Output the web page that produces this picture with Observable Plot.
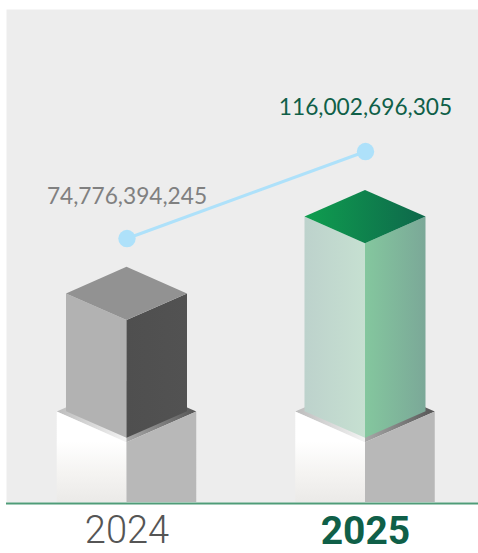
<!DOCTYPE html>
<html>
<head>
<meta charset="utf-8">
<script src="https://cdn.jsdelivr.net/npm/d3@7"></script>
<script src="https://cdn.jsdelivr.net/npm/@observablehq/plot@0.6"></script>
<style>
  html, body { margin: 0; padding: 0; background: #fff; }
  svg { display: block; }
</style>
</head>
<body>
<script>
// Yearly totals
const years = [2024, 2025];
const totals = [74776394245, 116002696305];
const billions = totals.map((v) => v / 1e9);

// Block proportions, in the units of the x (years) and y (billions) scales
const boxHalf = 0.2537, slabHalf = 0.2925;
const boxRise = 12.6, slabRise = 14.6;
const boxFoot = -19.9, slabEdge = -7.4, groundLevel = -50.3;
const boxTop = (v) => 0.883 * v - 30.1;

// Face colours per block
const gradients = {
  topA: [["#929292", "#929292"], "h"],
  leftA: [["#b2b2b2", "#b2b2b2"], "h"],
  rightA: [["#4f4f4f", "#525252"], "h"],
  topB: [["#0f9e4f", "#0e674b"], "h"],
  leftB: [["#bdd2cc", "#c6e0d1"], "h"],
  rightB: [["#84c79e", "#7ba898"], "h"],
  slabTopL: [["#bcbcbc", "#f4f4f4"], "h"],
  slabTopR: [["#a8a8a8", "#555555"], "h"],
  slabFront: [["#ffffff", "#ffffff", "#f5f4f2", "#ebeae8"], "v"],
  slabSide: [["#b8b8b8", "#b8b8b8"], "v"]
};

function defs() {
  const d = document.createElementNS("http://www.w3.org/2000/svg", "defs");
  d.innerHTML = Object.entries(gradients).map(([id, [stops, dir]]) => {
    const s = stops.map((c, i) =>
      `<stop offset="${i / (stops.length - 1)}" stop-color="${c}"/>`).join("");
    return `<linearGradient id="${id}" x1="0" y1="0" x2="${dir === "h" ? 1 : 0}" y2="${dir === "v" ? 1 : 0}">${s}</linearGradient>`;
  }).join("");
  return d;
}

// One face of a block: a run of x positions with a lower and an upper level
const face = (pts, fill) => Plot.areaY(pts, {x: "x", y1: "a", y2: "b", fill});

function block(year, v, key) {
  const t = boxTop(v);
  const xl = year - boxHalf, xr = year + boxHalf;
  const sl = year - slabHalf, sr = year + slabHalf;
  const slabFront = slabEdge - slabRise;
  return [
    // slab top
    face([{x: sl, a: slabEdge, b: slabEdge}, {x: year, a: slabFront, b: slabEdge + slabRise}], "url(#slabTopL)"),
    face([{x: year, a: slabFront, b: slabEdge + slabRise}, {x: sr, a: slabEdge, b: slabEdge}], "url(#slabTopR)"),
    // slab sides
    face([{x: sl, a: groundLevel, b: slabEdge}, {x: year, a: groundLevel, b: slabFront}], "url(#slabFront)"),
    face([{x: year, a: groundLevel, b: slabFront}, {x: sr, a: groundLevel, b: slabEdge}], "url(#slabSide)"),
    // column sides
    face([{x: xl, a: boxFoot + boxRise, b: t + boxRise}, {x: year, a: boxFoot, b: t}], `url(#left${key})`),
    face([{x: year, a: boxFoot, b: t}, {x: xr, a: boxFoot + boxRise, b: t + boxRise}], `url(#right${key})`),
    // column top
    face([
      {x: xl, a: t + boxRise, b: t + boxRise},
      {x: year, a: t, b: t + 2 * boxRise},
      {x: xr, a: t + boxRise, b: t + boxRise}
    ], `url(#top${key})`)
  ];
}

const rows = years.map((year, i) => ({year, value: billions[i], total: totals[i]}));
const labelFont = "Lato, 'Noto Sans', sans-serif";
const yearFont = "Roboto, 'Liberation Sans', Arial, sans-serif";

const chart = Plot.plot({
  width: 478,
  height: 553,
  marginLeft: 6,
  marginRight: 0,
  marginTop: 9,
  marginBottom: 51,
  style: {background: "#fff"},
  x: {domain: [2023.4948, 2025.4738], axis: null},
  y: {domain: [groundLevel, 183.3], axis: null},
  marks: [
    defs,
    Plot.frame({fill: "#ededed", stroke: null}),
    ...block(years[0], billions[0], "A"),
    ...block(years[1], billions[1], "B"),
    Plot.ruleY([groundLevel], {stroke: "#4f9c78", strokeWidth: 2, dy: 1}),
    Plot.line(rows, {x: "year", y: "value", stroke: "#aee1fa", strokeWidth: 3}),
    Plot.dot(rows, {x: "year", y: "value", r: 8.7, fill: "#aee1fa"}),
    Plot.text([rows[0]], {
      x: "year", y: "value", text: (d) => d3.format(",")(d.total), dy: -42,
      fontFamily: labelFont, fontSize: 22.7, fill: "#808080"
    }),
    Plot.text([rows[1]], {
      x: "year", y: "value", text: (d) => d3.format(",")(d.total), dy: -44,
      fontFamily: labelFont, fontSize: 22.7, fill: "#0f5f48"
    }),
    Plot.axisX({
      anchor: "bottom", ticks: [years[0]], tickFormat: "d", tickSize: 0, tickPadding: 14,
      fontFamily: yearFont, fontSize: 38, fontWeight: 300, fill: "#555555"
    }),
    Plot.axisX({
      anchor: "bottom", ticks: [years[1]], tickFormat: "d", tickSize: 0, tickPadding: 14,
      fontFamily: yearFont, fontSize: 39, fontWeight: "bold", fill: "#0f5f48"
    })
  ]
});
document.body.appendChild(chart);
</script>
</body>
</html>
